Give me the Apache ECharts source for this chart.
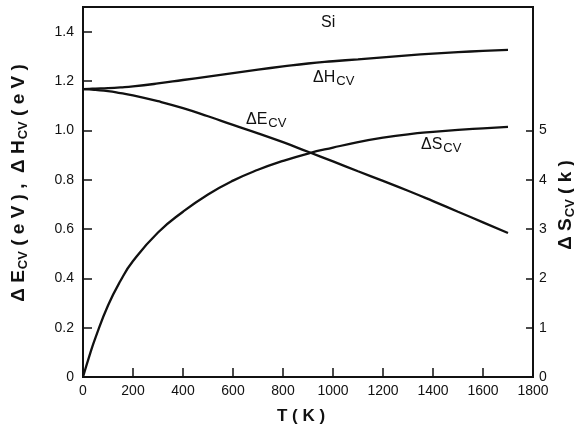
<!DOCTYPE html>
<html>
<head>
<meta charset="utf-8">
<script src="https://cdn.jsdelivr.net/npm/echarts@6/dist/echarts.min.js"></script>
<style>
  html, body { margin: 0; padding: 0; background: #fff; }
  #chart { width: 574px; height: 429px; }
</style>
</head>
<body>
<div id="chart"></div>
<script>
// temperature T (K)
const temps = [0, 25, 50, 100, 150, 200, 300, 400, 500, 600, 700, 800, 900, 1000, 1100, 1200, 1300, 1400, 1500, 1600, 1700]
// ΔH_cv (eV)
const dH = [1.167, 1.168, 1.169, 1.171, 1.174, 1.178, 1.19, 1.204, 1.218, 1.232, 1.246, 1.259, 1.271, 1.28, 1.288, 1.296, 1.304, 1.311, 1.317, 1.322, 1.326]
// ΔE_cv (eV)
const dE = [1.167, 1.166, 1.164, 1.159, 1.151, 1.142, 1.118, 1.09, 1.057, 1.022, 0.988, 0.952, 0.913, 0.874, 0.834, 0.795, 0.755, 0.713, 0.67, 0.627, 0.584]
// ΔS_cv (k)
const dS = [0, 0.42, 0.8, 1.45, 1.95, 2.35, 2.93, 3.35, 3.7, 3.98, 4.2, 4.38, 4.53, 4.65, 4.76, 4.85, 4.92, 4.97, 5.01, 5.04, 5.07]

const leftTicks = [0, 0.2, 0.4, 0.6, 0.8, 1.0, 1.2, 1.4]
const rightTicks = [0, 1, 2, 3, 4, 5]

const pairs = (ys) => temps.map((t, i) => [t, ys[i]])

const font = 'Liberation Sans, Arial, sans-serif'
const ink = '#111'

const chart = echarts.init(document.getElementById('chart'))

const lineSeries = (name, ys, axis) => ({
  name: name,
  type: 'line',
  yAxisIndex: axis,
  data: pairs(ys),
  smooth: true,
  showSymbol: false,
  lineStyle: { color: ink, width: 2.3 },
  silent: true
})

// main text + lowered subscript
const label = (x, y, main, sub, size) => ({
  type: 'text',
  x: x, y: y,
  style: {
    text: '{a|' + main + '}{s|' + sub + '}',
    fill: ink,
    rich: {
      a: { fontFamily: font, fontSize: size, lineHeight: size + 4, fill: ink },
      s: { fontFamily: font, fontSize: size - 3, padding: [7, 0, 0, 1], fill: ink }
    }
  }
})

const rotTitle = (x, y, text) => ({
  type: 'text',
  x: x, y: y,
  rotation: Math.PI / 2,
  style: {
    text: text,
    align: 'center',
    verticalAlign: 'middle',
    fill: ink,
    rich: {
      a: { fontFamily: font, fontWeight: 'bold', fontSize: 19, lineHeight: 22, fill: ink },
      s: { fontFamily: font, fontWeight: 'bold', fontSize: 13, padding: [8, 0, 0, 1], fill: ink }
    }
  }
})

const option = {
  animation: false,
  grid: {
    left: 83, right: 41, top: 7, bottom: 52,
    show: true, borderColor: ink, borderWidth: 2
  },
  xAxis: {
    type: 'value',
    min: 0, max: 1800, interval: 200,
    axisLine: { lineStyle: { color: ink, width: 2 } },
    axisTick: { inside: true, length: 9, lineStyle: { color: ink, width: 1.5 } },
    axisLabel: { color: ink, fontFamily: font, fontSize: 14, margin: 7, formatter: (v) => String(v) },
    splitLine: { show: false }
  },
  yAxis: [
    {
      type: 'value',
      min: 0, max: 1.5, interval: 0.1,
      axisLine: { show: true, lineStyle: { color: ink, width: 2 } },
      axisTick: { inside: true, length: 9, customValues: leftTicks, lineStyle: { color: ink, width: 1.5 } },
      axisLabel: {
        color: ink, fontFamily: font, fontSize: 14, margin: 9,
        customValues: leftTicks,
        formatter: (v) => v === 0 ? '0' : v.toFixed(1)
      },
      splitLine: { show: false }
    },
    {
      type: 'value',
      min: 0, max: 7.5, interval: 0.5,
      position: 'right',
      axisLine: { show: true, lineStyle: { color: ink, width: 2 } },
      axisTick: { inside: true, length: 7, customValues: rightTicks, lineStyle: { color: ink, width: 1.5 } },
      axisLabel: { color: ink, fontFamily: font, fontSize: 14, margin: 6, customValues: rightTicks },
      splitLine: { show: false }
    }
  ],
  series: [
    lineSeries('ΔH', dH, 0),
    lineSeries('ΔE', dE, 0),
    lineSeries('ΔS', dS, 1)
  ],
  graphic: [
    { type: 'text', x: 321, y: 15, style: { text: 'Si', fontFamily: font, fontSize: 16, fill: ink } },
    label(313, 68, 'ΔH', 'CV', 16),
    label(246, 110, 'ΔE', 'CV', 16),
    label(421, 135, 'ΔS', 'CV', 16),
    rotTitle(19, 183, '{a|Δ E}{s|CV}{a| ( e V ) ,  Δ H}{s|CV}{a| ( e V )}'),
    rotTitle(566, 205, '{a|Δ S}{s|CV}{a| ( k )}'),
    {
      type: 'text', x: 301, y: 416,
      style: {
        text: 'T ( K )', align: 'center', verticalAlign: 'middle',
        fontFamily: font, fontWeight: 'bold', fontSize: 17, fill: ink
      }
    }
  ]
}

chart.setOption(option)
</script>
</body>
</html>
